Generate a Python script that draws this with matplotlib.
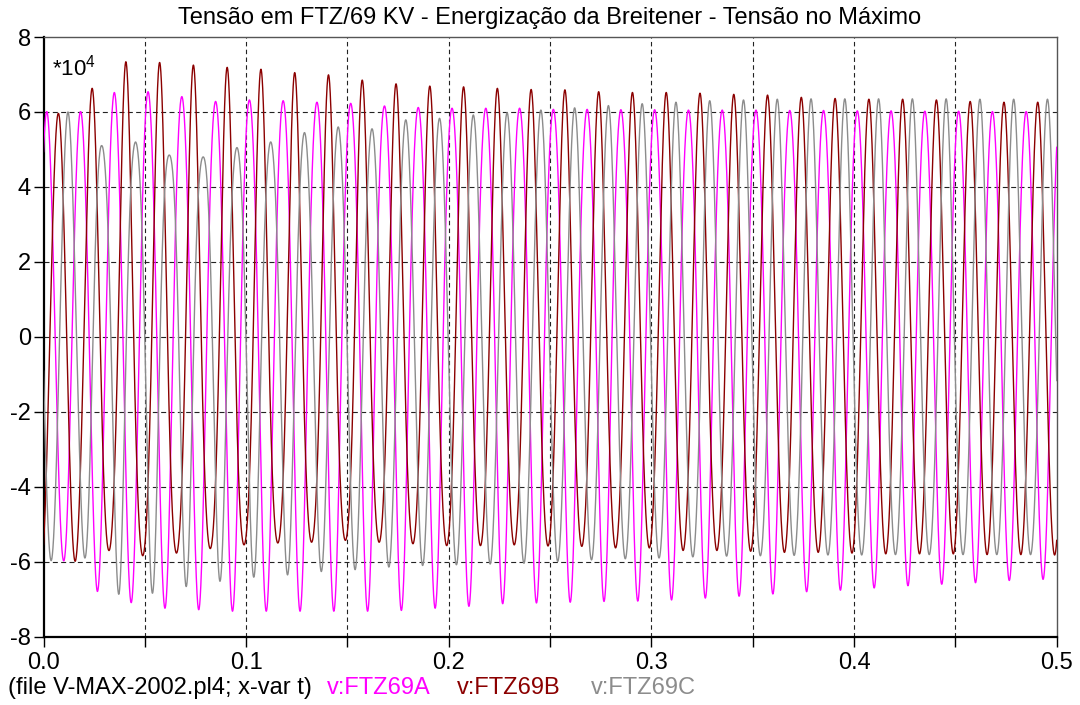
import numpy as np
import matplotlib
matplotlib.use('Agg')
import matplotlib.pyplot as plt

plt.rcParams['font.family'] = ['Liberation Sans', 'DejaVu Sans']
plt.rcParams['axes.unicode_minus'] = False
plt.rcParams['mathtext.fontset'] = 'custom'
plt.rcParams['mathtext.rm'] = 'Liberation Sans'

# ---------------- data (values in units of 1e4 V) ----------------
freq = 60.0          # Hz
t_end = 0.5          # s

# time of the first maximum / minimum of each phase (s)
a_first_max, a_first_min = 0.0016, 0.0098
b_first_max, b_first_min = 0.0073, 0.0155
c_first_max, c_first_min = 0.0121, 0.0040

# per-cycle maxima and minima
a_max = [6.01, 6.01, 6.52, 6.54, 6.41, 6.28, 6.32, 6.30, 6.26, 6.23,
         6.16, 6.12, 6.10, 6.10, 6.10, 6.07, 6.07, 6.06, 6.06, 6.05,
         6.05, 6.05, 6.04, 6.04, 6.03, 6.03, 6.02, 6.02, 6.01, 6.01]
a_min = [-5.97, -6.79, -7.09, -7.24, -7.28, -7.32, -7.32, -7.32, -7.32, -7.32,
         -7.30, -7.24, -7.19, -7.12, -7.10, -7.08, -7.06, -7.05, -7.02, -6.97,
         -6.92, -6.86, -6.80, -6.76, -6.70, -6.64, -6.60, -6.56, -6.50, -6.47]

b_max = [5.96, 6.63, 7.34, 7.32, 7.25, 7.19, 7.14, 7.05, 6.99, 6.85,
         6.75, 6.69, 6.67, 6.63, 6.60, 6.59, 6.54, 6.52, 6.52, 6.50,
         6.47, 6.45, 6.39, 6.36, 6.34, 6.34, 6.32, 6.28, 6.26, 6.26]
b_min = [-5.99, -5.70, -5.84, -5.77, -5.65, -5.55, -5.50, -5.48, -5.43, -5.48,
         -5.52, -5.57, -5.57, -5.55, -5.58, -5.59, -5.63, -5.63, -5.70, -5.70,
         -5.72, -5.75, -5.75, -5.77, -5.79, -5.79, -5.79, -5.81, -5.81, -5.82]

c_max = [6.00, 5.10, 5.20, 4.85, 4.80, 5.05, 5.20, 5.45, 5.60, 5.55,
         5.79, 5.83, 5.92, 5.98, 6.05, 6.11, 6.17, 6.22, 6.26, 6.30,
         6.32, 6.34, 6.35, 6.35, 6.35, 6.35, 6.35, 6.34, 6.34, 6.34]
c_min = [-5.97, -5.90, -6.88, -6.84, -6.66, -6.52, -6.41, -6.35, -6.26, -6.21,
         -6.14, -6.10, -6.08, -6.06, -6.04, -5.99, -5.95, -5.92, -5.90, -5.87,
         -5.85, -5.84, -5.83, -5.82, -5.82, -5.81, -5.81, -5.81, -5.81, -5.81]

series_names = ['v:FTZ69A', 'v:FTZ69B', 'v:FTZ69C']
series_colors = ['#FF00FF', '#8B0000', '#8C8C8C']

title = 'Tensão em FTZ/69 KV - Energização da Breitener - Tensão no Máximo'
footer = '(file V-MAX-2002.pl4; x-var t)'
x_ticks = [0.0, 0.1, 0.2, 0.3, 0.4, 0.5]
x_minor = [0.05, 0.15, 0.25, 0.35, 0.45]
y_ticks = [-8, -6, -4, -2, 0, 2, 4, 6, 8]

# ---------------- waveform reconstruction from read extrema ----------------
t = np.linspace(0.0, t_end, 50001)


def waveform(first_max, vmax, first_min, vmin):
    tmax = first_max + np.arange(len(vmax)) / freq
    tmin = first_min + np.arange(len(vmin)) / freq
    P = np.interp(t, tmax, vmax)
    N = -np.interp(t, tmin, vmin)
    a1 = (P + N) / 2.0
    a2 = (P - N) / 2.0
    th = 2 * np.pi * freq * (t - first_max)
    return a1 * np.cos(th) + a2 * np.cos(2 * th)


va = waveform(a_first_max, a_max, a_first_min, a_min)
vb = waveform(b_first_max, b_max, b_first_min, b_min)
vc = waveform(c_first_max, c_max, c_first_min, c_min)

# ---------------- figure ----------------
FS = 17
fig = plt.figure(figsize=(10.8, 7.05), dpi=100)
ax = fig.add_axes([43.5 / 1080, 1 - 636.7 / 705, (1056.7 - 43.5) / 1080, (636.7 - 37) / 705])

for v, c in zip([va, vb, vc], series_colors):
    ax.plot(t, v, color=c, lw=1.0, zorder=3)

ax.set_xlim(0, t_end)
ax.set_ylim(-8, 8)

# grid
for gx in x_minor + x_ticks[1:-1]:
    ax.axvline(gx, color='#222222', lw=0.8, ls=(0, (4, 3)), zorder=1)
for gy in y_ticks[1:-1]:
    ax.axhline(gy, color='#222222', lw=0.8, ls=(0, (4.5, 3)), zorder=1)

ax.set_xticks(x_ticks)
ax.set_xticklabels(['%.1f' % v for v in x_ticks])
ax.set_xticks(x_minor, minor=True)
ax.set_yticks(y_ticks)
ax.set_yticklabels([str(v) for v in y_ticks])
ax.tick_params(axis='both', which='both', direction='out', length=7, width=1,
               labelsize=FS, color='black')
ax.tick_params(axis='x', pad=4)
ax.tick_params(axis='y', pad=2)

for s in ['left', 'bottom']:
    ax.spines[s].set_color('black')
    ax.spines[s].set_linewidth(1.6)
for s in ['top', 'right']:
    ax.spines[s].set_color('#555555')
    ax.spines[s].set_linewidth(1.0)

ax.text(0.008, 0.97, r'*10$^4$', transform=ax.transAxes, fontsize=16,
        ha='left', va='top')

fig.text(550 / 1080, 1 - 18 / 705, title, ha='center', va='center', fontsize=FS)

# footer / legend
fy = 1 - 688 / 705
fig.text(8 / 1080, fy, footer, ha='left', va='center', fontsize=FS, color='black')
for name, col, xp in zip(series_names, series_colors, [327, 457, 591]):
    fig.text(xp / 1080, fy, name, ha='left', va='center', fontsize=FS, color=col)

fig.savefig('out.png', dpi=100)
